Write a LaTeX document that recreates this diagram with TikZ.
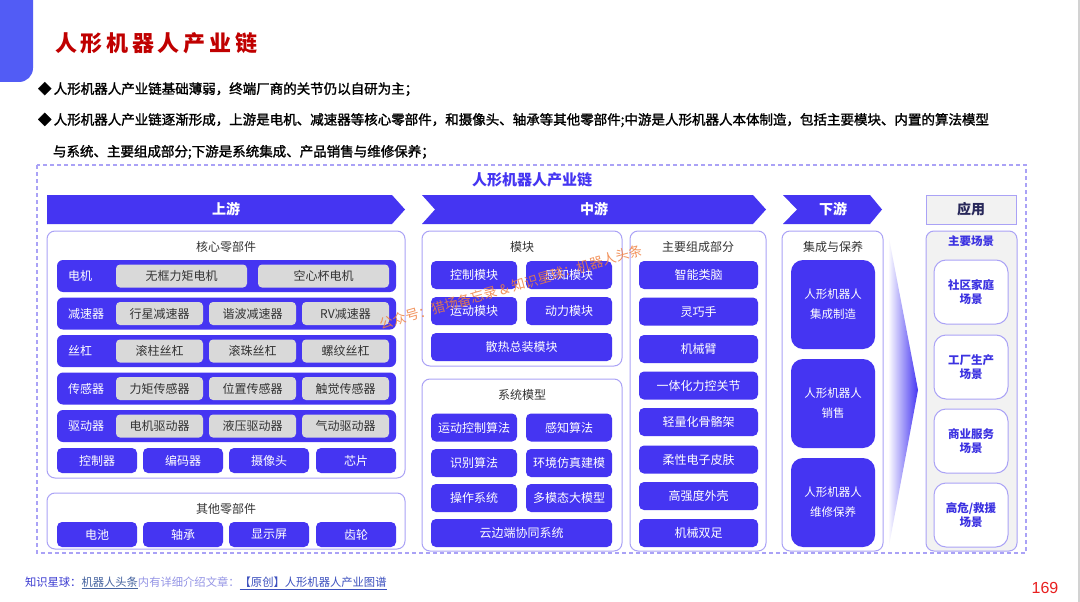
\documentclass[tikz,border=0pt]{standalone}
\usepackage{fontspec}
\setmainfont{Noto Sans CJK SC}
\newfontfamily\numfont{Liberation Sans}
\newfontfamily\heavyfont[FakeBold=1.5]{Noto Sans CJK SC}
\definecolor{mainblue}{RGB}{69,53,242}
\definecolor{lightline}{RGB}{170,162,246}
\definecolor{tabblue}{RGB}{82,92,245}
\definecolor{grayfill}{RGB}{217,217,217}
\definecolor{appfill}{RGB}{242,242,242}
\definecolor{titlered}{RGB}{192,0,0}
\definecolor{textdark}{RGB}{51,51,51}
\definecolor{wmorange}{RGB}{240,128,64}
\definecolor{pagered}{RGB}{232,32,32}
\definecolor{footblue}{RGB}{60,60,210}
\definecolor{footgray}{RGB}{70,100,160}
\definecolor{footlight}{RGB}{150,150,230}
\definecolor{footlink}{RGB}{60,80,190}
\definecolor{appblue}{RGB}{60,50,225}
\definecolor{navy}{RGB}{40,40,90}
\newcommand\myfs[1]{\fontsize{#1}{#1}\selectfont}
\tikzset{
 base/.style={inner sep=0pt, outer sep=0pt},
 panel/.style={base, draw=lightline, line width=1pt, rounded corners=8pt, fill=white},
 apppanel/.style={panel, fill=appfill},
 ptitle/.style={base, text=textdark, font=\myfs{12}},
 rowbox/.style={base, fill=mainblue, rounded corners=6pt, minimum width=339pt, minimum height=32pt},
 rowlabel/.style={base, anchor=west, text=white, font=\myfs{12}},
 graybox/.style={base, fill=grayfill, rounded corners=4pt, minimum height=23pt, text=textdark, font=\myfs{12}},
 bluebox/.style={base, fill=mainblue, rounded corners=5pt, text=white, font=\myfs{12}},
 smallbox/.style={bluebox, minimum width=80pt, minimum height=25pt},
 modbox/.style={bluebox, minimum width=86pt, minimum height=28pt},
 partbox/.style={bluebox, minimum width=119pt, minimum height=28pt},
 bigbox/.style={bluebox, rounded corners=12pt, minimum width=84pt, minimum height=89pt, align=center, font=\fontsize{11.5}{20}\selectfont},
 scenebox/.style={base, draw=lightline, line width=1pt, fill=white, rounded corners=12pt, minimum width=74pt, minimum height=64pt, align=center, text=appblue, font=\bfseries\fontsize{11.5}{13.5}\selectfont},
 bantext/.style={base, text=white, font=\bfseries\myfs{14}},
 bullet/.style={base, anchor=west, text=black, font=\heavyfont\myfs{13.5}},
}
\begin{document}
\begin{tikzpicture}[x=1pt,y=-1pt]
\useasboundingbox (0,0) rectangle (1080,602);
\fill[white] (0,0) rectangle (1080,602);
% top-left tab
\fill[tabblue, rounded corners=14pt] (-30,-30) rectangle (33,82);
% right edge line
\draw[gray!35, line width=1.5pt] (1079,0) -- (1079,602);
% title
\node[base, anchor=west, text=titlered, font=\bfseries\myfs{22}\addfontfeature{LetterSpace=17}] (title) at (55,43) {人形机器人产业链};
% bullets
\node[bullet] (b1) at (38,89) {◆\,人形机器人产业链基础薄弱，终端厂商的关节仍以自研为主；};
\node[bullet] (b2) at (38,120) {◆\,人形机器人产业链逐渐形成，上游是电机、减速器等核心零部件，和摄像头、轴承等其他零部件;中游是人形机器人本体制造，包括主要模块、内置的算法模型};
\node[bullet] (b3) at (53,152) {与系统、主要组成部分;下游是系统集成、产品销售与维修保养；};
% dashed frame
\draw[lightline, line width=1.5pt, dash pattern=on 4pt off 3pt] (37,165) rectangle (1026,553);
\node[base, text=mainblue, font=\bfseries\myfs{15}] (frameT) at (532,180) {人形机器人产业链};
% banners
\fill[mainblue] (47,195) -- (392,195) -- (405,209.5) -- (392,224) -- (47,224) -- cycle;
\node[bantext] (up) at (226,209.5) {上游};
\fill[mainblue] (422,195) -- (753,195) -- (766,209.5) -- (753,224) -- (422,224) -- (435,209.5) -- cycle;
\node[bantext] (mid) at (594,209.5) {中游};
\fill[mainblue] (783,195) -- (870,195) -- (882,209.5) -- (870,224) -- (783,224) -- (797,209.5) -- cycle;
\node[bantext] (down) at (833,209.5) {下游};
\node[base, draw=lightline, line width=1pt, fill=appfill, minimum width=90pt, minimum height=29pt, text=navy, font=\bfseries\myfs{14}] (app) at (971,209.5) {应用};
% ===== upstream
\node[panel, minimum width=358pt, minimum height=247pt] (core) at (226,354.5) {};
\node[ptitle] (coreT) at (226,247) {核心零部件};
\node[rowbox] (r1) at (226.5,276) {};
\node[rowlabel] (r1l) at (68,276) {电机};
\node[graybox, minimum width=131pt] (g11) at (181.5,276) {无框力矩电机};
\node[graybox, minimum width=131pt] (g12) at (323.5,276) {空心杯电机};
\node[rowbox] (r2) at (226.5,313.5) {};
\node[rowlabel] (r2l) at (68,313.5) {减速器};
\node[graybox, minimum width=87pt] (g21) at (159.5,313.5) {行星减速器};
\node[graybox, minimum width=87pt] (g22) at (252.5,313.5) {谐波减速器};
\node[graybox, minimum width=87pt] (g23) at (345.5,313.5) {RV减速器};
\node[rowbox] (r3) at (226.5,351) {};
\node[rowlabel] (r3l) at (68,351) {丝杠};
\node[graybox, minimum width=87pt] (g31) at (159.5,351) {滚柱丝杠};
\node[graybox, minimum width=87pt] (g32) at (252.5,351) {滚珠丝杠};
\node[graybox, minimum width=87pt] (g33) at (345.5,351) {螺纹丝杠};
\node[rowbox] (r4) at (226.5,388.5) {};
\node[rowlabel] (r4l) at (68,388.5) {传感器};
\node[graybox, minimum width=87pt] (g41) at (159.5,388.5) {力矩传感器};
\node[graybox, minimum width=87pt] (g42) at (252.5,388.5) {位置传感器};
\node[graybox, minimum width=87pt] (g43) at (345.5,388.5) {触觉传感器};
\node[rowbox] (r5) at (226.5,426) {};
\node[rowlabel] (r5l) at (68,426) {驱动器};
\node[graybox, minimum width=87pt] (g51) at (159.5,426) {电机驱动器};
\node[graybox, minimum width=87pt] (g52) at (252.5,426) {液压驱动器};
\node[graybox, minimum width=87pt] (g53) at (345.5,426) {气动驱动器};
\node[smallbox] (c1) at (97,460.5) {控制器};
\node[smallbox] (c2) at (183,460.5) {编码器};
\node[smallbox] (c3) at (269,460.5) {摄像头};
\node[smallbox] (c4) at (356,460.5) {芯片};
\node[panel, minimum width=358pt, minimum height=56pt] (other) at (226,521) {};
\node[ptitle] (otherT) at (226,509) {其他零部件};
\node[smallbox] (o1) at (97,534.5) {电池};
\node[smallbox] (o2) at (183,534.5) {轴承};
\node[smallbox] (o3) at (269,534.5) {显示屏};
\node[smallbox] (o4) at (356,534.5) {齿轮};
% ===== midstream
\node[panel, minimum width=200pt, minimum height=135pt] (mod) at (522,298.5) {};
\node[ptitle] (modT) at (522,247) {模块};
\node[modbox] (m1) at (474,275) {控制模块};
\node[modbox] (m2) at (569,275) {感知模块};
\node[modbox] (m3) at (474,311) {运动模块};
\node[modbox] (m4) at (569,311) {动力模块};
\node[bluebox, minimum width=181pt, minimum height=28pt] (m5) at (521.5,347) {散热总装模块};
\node[panel, minimum width=200pt, minimum height=172pt] (sys) at (522,465) {};
\node[ptitle] (sysT) at (522,395) {系统模型};
\node[modbox] (s1) at (474,427.5) {运动控制算法};
\node[modbox] (s2) at (569,427.5) {感知算法};
\node[modbox] (s3) at (474,463) {识别算法};
\node[modbox] (s4) at (569,463) {环境仿真建模};
\node[modbox] (s5) at (474,498) {操作系统};
\node[modbox] (s6) at (569,498) {多模态大模型};
\node[bluebox, minimum width=181pt, minimum height=28pt] (s7) at (521.5,533) {云边端协同系统};
\node[panel, minimum width=136pt, minimum height=320pt] (parts) at (698,391) {};
\node[ptitle] (partsT) at (698,247) {主要组成部分};
\node[partbox] (p1) at (698.5,275) {智能类脑};
\node[partbox] (p2) at (698.5,311.5) {灵巧手};
\node[partbox] (p3) at (698.5,349) {机械臂};
\node[partbox] (p4) at (698.5,385.5) {一体化力控关节};
\node[partbox] (p5) at (698.5,422) {轻量化骨骼架};
\node[partbox] (p6) at (698.5,459.5) {柔性电子皮肤};
\node[partbox] (p7) at (698.5,496) {高强度外壳};
\node[partbox] (p8) at (698.5,533) {机械双足};
% ===== downstream
\node[panel, minimum width=101pt, minimum height=320pt] (dpanel) at (832.5,391) {};
\node[ptitle] (dT) at (833,247) {集成与保养};
\node[bigbox] (d1) at (833,304.5) {人形机器人\\集成制造};
\node[bigbox] (d2) at (833,403.5) {人形机器人\\销售};
\node[bigbox] (d3) at (833,502.5) {人形机器人\\维修保养};
% gradient arrow
\shade[left color=white, right color=mainblue] (888,233) -- (918,390) -- (888,551) -- cycle;
% ===== application
\node[apppanel, minimum width=91pt, minimum height=320pt] (apanel) at (971.5,391) {};
\node[base, text=appblue, font=\bfseries\myfs{11.5}] (aT) at (971,241) {主要场景};
\node[scenebox] (a1) at (971,292) {社区家庭\\场景};
\node[scenebox] (a2) at (971,367) {工厂生产\\场景};
\node[scenebox] (a3) at (971,441) {商业服务\\场景};
\node[scenebox] (a4) at (971,515) {高危/救援\\场景};
% footer
\node[base, anchor=west, font=\myfs{11.3}] (foot) at (25,583) {\textcolor{footblue}{知识星球：}\textcolor{footgray}{\underline{机器人头条}}\textcolor{footlight}{内有详细介绍文章：}\textcolor{footlink}{\underline{【原创】人形机器人产业图谱}}};
\node[base, text=pagered, font=\numfont\myfs{16}] (page) at (1045,588) {169};
% watermark
\node[base, text=wmorange, opacity=0.85, rotate=16, font=\myfs{13.5}] (wm) at (511,287) {公众号：猎场备忘录 \& 知识星球：机器人头条};
\end{tikzpicture}
\end{document}
